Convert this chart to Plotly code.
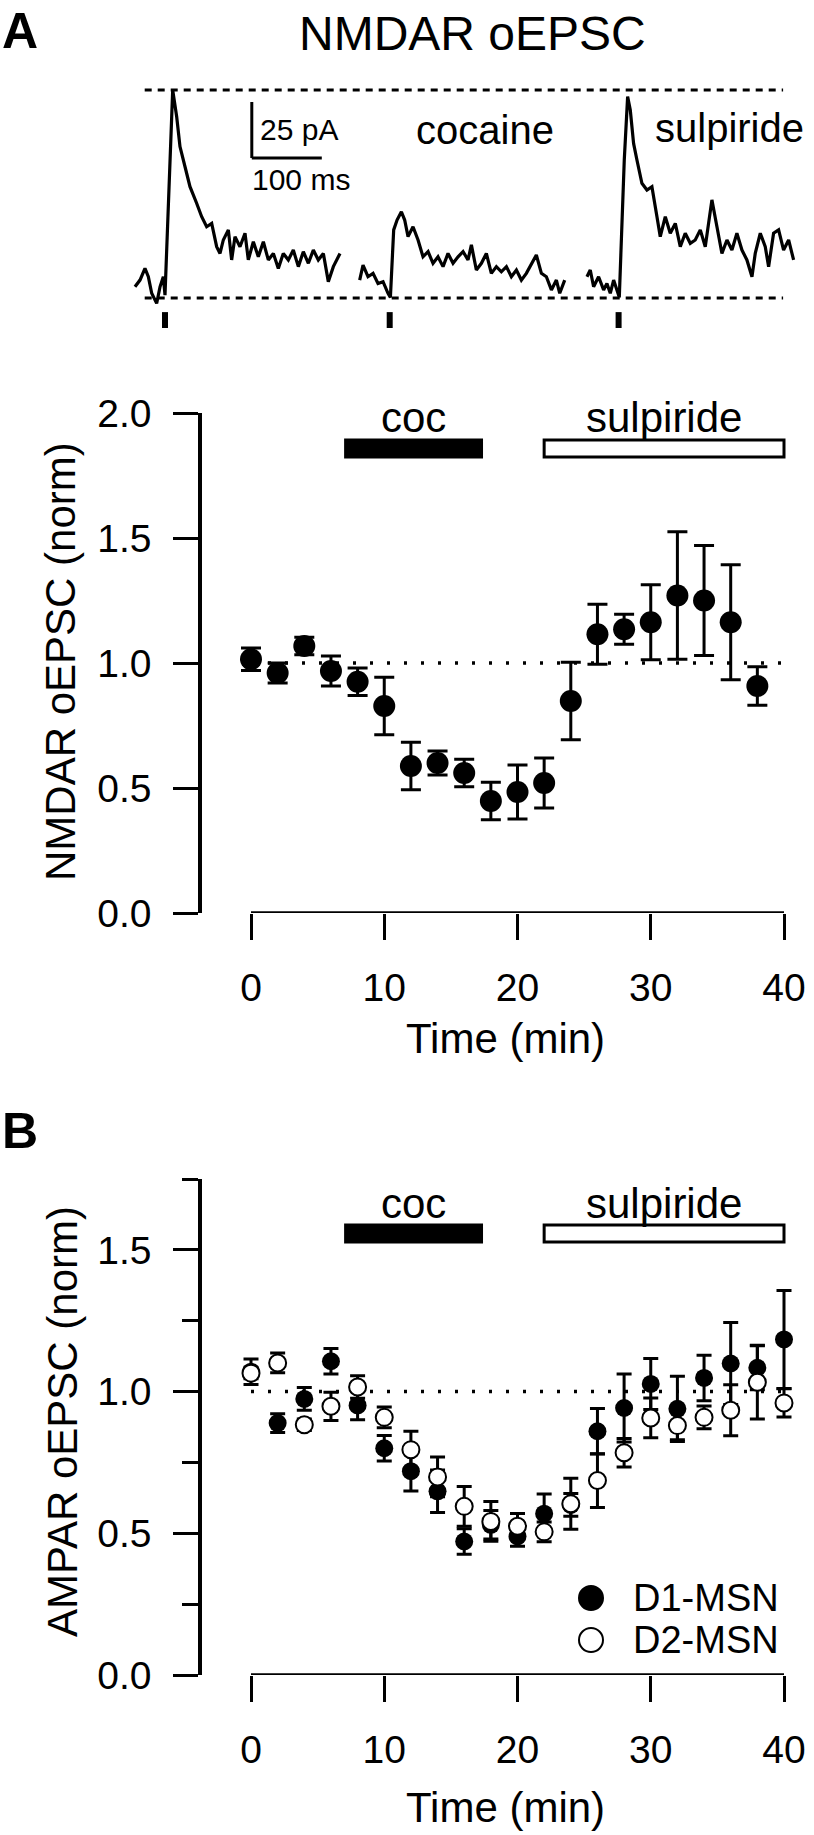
import plotly.graph_objects as go

# ------------------------------------------------------------------ data
# Panel A: NMDAR oEPSC (normalized), mean and SEM every 2 min
time_a = [0, 2, 4, 6, 8, 10, 12, 14, 16, 18, 20, 22, 24, 26, 28, 30, 32, 34, 36, 38]
nmda_mean = [1.015, 0.96, 1.068, 0.968, 0.925, 0.828, 0.588, 0.600, 0.560, 0.448,
             0.484, 0.520, 0.848, 1.115, 1.135, 1.163, 1.270, 1.250, 1.163, 0.908]
nmda_sem = [0.045, 0.04, 0.035, 0.06, 0.055, 0.115, 0.095, 0.048, 0.055, 0.075,
            0.108, 0.10, 0.155, 0.12, 0.06, 0.15, 0.255, 0.22, 0.23, 0.077]

# Panel B: AMPAR oEPSC (normalized) for D1- and D2-MSNs
time_b = [0, 2, 4, 6, 8, 10, 12, 14, 16, 18, 20, 22, 24, 26, 28, 30, 32, 34, 36, 38, 40]
d1_mean = [1.07, 0.889, 0.974, 1.107, 0.951, 0.80, 0.719, 0.648, 0.471, 0.53, 0.489,
           0.569, 0.60, 0.86, 0.942, 1.027, 0.939, 1.048, 1.099, 1.084, 1.184]
d1_sem = [0.045, 0.033, 0.04, 0.045, 0.05, 0.045, 0.07, 0.075, 0.045, 0.05, 0.035,
          0.07, 0.04, 0.08, 0.12, 0.09, 0.115, 0.08, 0.145, 0.078, 0.173]
d2_mean = [1.065, 1.101, 0.883, 0.948, 1.016, 0.909, 0.795, 0.699, 0.595, 0.542, 0.525,
           0.505, 0.604, 0.686, 0.784, 0.907, 0.88, 0.909, 0.934, 1.033, 0.96]
d2_sem = [0.02, 0.035, 0.02, 0.05, 0.04, 0.037, 0.065, 0.07, 0.07, 0.07, 0.045,
          0.035, 0.09, 0.095, 0.05, 0.07, 0.05, 0.04, 0.09, 0.13, 0.05]
series_names = ["D1-MSN", "D2-MSN"]

# Drug application periods (min)
drug_names = ["coc", "sulpiride"]
drug_start = [7.1, 22.0]
drug_end = [17.3, 40.0]
drug_fill = ["black", "white"]

x_ticks = [0, 10, 20, 30, 40]
y_ticks_a = [0.0, 0.5, 1.0, 1.5, 2.0]
y_ticks_b = [0.0, 0.5, 1.0, 1.5]

# Example NMDAR oEPSC traces (time ms from stimulus, current pA)
trace_labels = ["", "cocaine", "sulpiride"]
trace1_ms = [-42.9, -35.7, -28.6, -23.8, -19.0, -11.9, -7.1, -2.4, 0, 11.0, 16.7, 21.4,
             28.6, 35.7, 45.2, 52.4, 59.5, 66.7, 73.8, 78.6, 83.3, 90.5, 95.2, 100,
             107.1, 114.3, 119.0, 126.2, 133.3, 140.5, 147.6, 154.8, 161.9, 169.0,
             176.2, 183.3, 190.5, 197.6, 204.8, 211.9, 219.0, 226.2, 233.3, 240.5, 250]
trace1_pA = [5.0, 8.0, 13.2, 9.5, 2.1, -2.4, 5.0, 9.5, 1.3, 92.9, 80.9, 67.6, 58.6,
             49.7, 42.3, 36.3, 31.8, 33.3, 22.9, 19.9, 25.9, 30.4, 17.0, 27.4, 22.9,
             28.9, 17.0, 25.1, 18.4, 25.1, 17.0, 19.9, 13.2, 19.9, 17.0, 21.4, 14.0,
             20.7, 15.5, 21.4, 17.0, 19.9, 7.3, 14.0, 19.9]
trace2_ms = [-42.9, -38.1, -31.0, -23.8, -16.7, -9.5, -2.4, 1.0, 5.7, 10.5, 16.7, 21.4,
             26.2, 33.3, 40.5, 47.6, 54.8, 61.9, 69.0, 76.2, 83.3, 90.5, 97.6, 104.8,
             111.9, 116.7, 123.8, 131.0, 138.1, 145.2, 152.4, 159.5, 166.7, 173.8,
             181.0, 188.1, 195.2, 209.5, 216.7, 223.8, 231.0, 238.1, 242.9, 250]
trace2_pA = [8.0, 14.7, 9.5, 11.0, 6.5, 7.3, 2.1, 0.3, 30.4, 34.8, 38.5, 34.8, 27.4,
             31.8, 25.9, 18.4, 20.7, 15.5, 18.4, 14.0, 19.9, 15.5, 18.4, 20.7, 17.0,
             23.7, 12.5, 15.5, 19.9, 11.0, 14.0, 11.7, 14.0, 9.5, 12.5, 8.0, 11.0,
             19.2, 11.0, 9.5, 3.6, 8.0, 2.1, 8.0]
trace3_ms = [-45.2, -40.5, -35.7, -28.6, -21.4, -16.7, -11.9, -7.1, -2.4, 1.0, 8.1, 12.9,
             16.7, 21.4, 26.2, 33.3, 40.5, 47.6, 54.8, 59.5, 66.7, 73.8, 81.0, 88.1,
             95.2, 102.4, 109.5, 116.7, 123.8, 128.6, 133.3, 140.5, 147.6, 154.8,
             161.9, 169.0, 176.2, 183.3, 190.5, 195.2, 202.4, 209.5, 214.3, 221.4,
             228.6, 235.7, 242.9, 250]
trace3_pA = [9.5, 12.5, 5.0, 9.5, 3.6, 6.5, 2.1, 8.0, 3.6, 0.3, 61.6, 89.9, 83.9, 69.0,
             61.6, 51.2, 48.2, 49.7, 36.3, 27.4, 36.3, 28.9, 33.3, 22.9, 28.9, 24.4,
             25.9, 30.4, 22.9, 34.8, 43.8, 31.8, 19.9, 25.9, 21.4, 28.9, 21.4, 17.0,
             9.5, 19.9, 28.9, 22.9, 14.0, 28.9, 30.4, 21.4, 25.9, 17.0]
scale_bar_pA = 25
scale_bar_ms = 100

# ------------------------------------------------------------------ layout helpers
W, H = 814, 1835
FONT = "Arial, Liberation Sans, Helvetica, sans-serif"


def px(x):
    return x / W


def py(y):
    return 1 - y / H


# plot geometry (pixels)
X0_PX, PX_PER_MIN = 251.0, 13.325
YAX_PX, XRIGHT_PX = 202.0, 797.0
x_range = [(YAX_PX - X0_PX) / PX_PER_MIN, (XRIGHT_PX - X0_PX) / PX_PER_MIN]

# trace panel geometry
STIM_PX, PX_PER_MS, BASE_PX, PX_PER_PA = 165.0, 0.7, 298.0, 2.24
TR_TOP, TR_BOT = 60.0, 340.0
trace_offsets = [0, 321, 648]

fig = go.Figure()

# ---- example traces
for ms, pa, off in zip([trace1_ms, trace2_ms, trace3_ms],
                       [trace1_pA, trace2_pA, trace3_pA], trace_offsets):
    fig.add_trace(go.Scatter(x=[t + off for t in ms], y=pa, mode="lines",
                             line=dict(color="black", width=3.2),
                             xaxis="x3", yaxis="y3", showlegend=False,
                             hoverinfo="skip"))

# ---- panel A
fig.add_trace(go.Scatter(
    x=time_a, y=nmda_mean, mode="markers", xaxis="x", yaxis="y",
    marker=dict(size=22, color="black"),
    error_y=dict(type="data", array=nmda_sem, color="black", thickness=3, width=10),
    showlegend=False, cliponaxis=False))

# ---- panel B
fig.add_trace(go.Scatter(
    x=time_b, y=d1_mean, mode="markers", xaxis="x2", yaxis="y2", name=series_names[0],
    marker=dict(size=18, color="black"),
    error_y=dict(type="data", array=d1_sem, color="black", thickness=3, width=7.5),
    showlegend=False, cliponaxis=False))
fig.add_trace(go.Scatter(
    x=time_b, y=d2_mean, mode="markers", xaxis="x2", yaxis="y2", name=series_names[1],
    marker=dict(size=17, color="white", line=dict(color="black", width=2)),
    error_y=dict(type="data", array=d2_sem, color="black", thickness=3, width=7.5),
    showlegend=False, cliponaxis=False))

shapes = []
annotations = []

# trace panel decorations
peak = max(trace1_pA)
for yv in [peak, 0]:
    shapes.append(dict(type="line", xref="x3", yref="y3", x0=-29, x1=883, y0=yv, y1=yv,
                       line=dict(color="black", width=3, dash="7px,6px")))
for off in trace_offsets:
    shapes.append(dict(type="line", xref="x3", yref="y3", x0=off, x1=off, y0=-6.3, y1=-13.4,
                       line=dict(color="black", width=6)))
sb_x, sb_y = 124, 62.5
shapes.append(dict(type="line", xref="x3", yref="y3", x0=sb_x, x1=sb_x,
                   y0=sb_y, y1=sb_y + scale_bar_pA, line=dict(color="black", width=3)))
shapes.append(dict(type="line", xref="x3", yref="y3", x0=sb_x, x1=sb_x + scale_bar_ms,
                   y0=sb_y, y1=sb_y, line=dict(color="black", width=3)))
annotations.append(dict(x=px(258), y=py(129.5), xref="paper", yref="paper",
                        text=f"{scale_bar_pA} pA", showarrow=False, xanchor="left",
                        yanchor="middle", font=dict(size=30, family=FONT, color="black")))
annotations.append(dict(x=px(250), y=py(179.5), xref="paper", yref="paper",
                        text=f"{scale_bar_ms} ms", showarrow=False, xanchor="left",
                        yanchor="middle", font=dict(size=30, family=FONT, color="black")))
for lab, xc, yc in zip(trace_labels, [0, 485, 729], [0, 130, 128]):
    if lab:
        annotations.append(dict(x=px(xc), y=py(yc), xref="paper", yref="paper", text=lab,
                                showarrow=False, xanchor="center", yanchor="middle",
                                font=dict(size=40, family=FONT, color="black")))

# panel-specific decorations
panels = [("x", "y", 1.824, 1.892, 417), ("x2", "y2", 1.528, 1.588, 1203)]
for xr, yr, b0, b1, txt_y in panels:
    shapes.append(dict(type="line", xref=xr, yref=yr, x0=0, x1=40, y0=0, y1=0,
                       line=dict(color="black", width=3.5)))
    shapes.append(dict(type="line", xref=xr, yref=yr, x0=0, x1=40, y0=1, y1=1,
                       line=dict(color="black", width=3.5, dash="3px,14px"), layer="below"))
    for name, s, e, fc in zip(drug_names, drug_start, drug_end, drug_fill):
        shapes.append(dict(type="rect", xref=xr, yref=yr, x0=s, x1=e, y0=b0, y1=b1,
                           fillcolor=fc, line=dict(color="black", width=3)))
        annotations.append(dict(x=(s + e) / 2, y=py(txt_y), xref=xr, yref="paper",
                                text=name, showarrow=False, xanchor="center",
                                yanchor="middle",
                                font=dict(size=42, family=FONT, color="black")))

# legend (panel B)
leg_x, leg_r = 591, 12
for i, (name, yc) in enumerate(zip(series_names, [1598, 1640])):
    shapes.append(dict(type="circle", xref="paper", yref="paper",
                       x0=px(leg_x - leg_r), x1=px(leg_x + leg_r),
                       y0=py(yc + leg_r), y1=py(yc - leg_r),
                       fillcolor="black" if i == 0 else "white",
                       line=dict(color="black", width=2)))
    annotations.append(dict(x=px(631), y=py(yc), xref="paper", yref="paper", text=name,
                            showarrow=False, xanchor="left", yanchor="middle",
                            font=dict(size=38, family=FONT, color="black")))

# titles and labels
annotations += [
    dict(x=px(0), y=py(31), xref="paper", yref="paper", text="<b>A</b>", showarrow=False,
         xanchor="left", yanchor="middle", font=dict(size=50, family=FONT, color="black")),
    dict(x=px(0), y=py(1131), xref="paper", yref="paper", text="<b>B</b>", showarrow=False,
         xanchor="left", yanchor="middle", font=dict(size=50, family=FONT, color="black")),
    dict(x=px(472), y=py(33), xref="paper", yref="paper", text="NMDAR oEPSC",
         showarrow=False, xanchor="center", yanchor="middle",
         font=dict(size=48, family=FONT, color="black")),
    dict(x=px(60), y=py(662), xref="paper", yref="paper", text="NMDAR oEPSC (norm)",
         showarrow=False, textangle=-90, xanchor="center", yanchor="middle",
         font=dict(size=42, family=FONT, color="black")),
    dict(x=px(62), y=py(1422), xref="paper", yref="paper", text="AMPAR oEPSC (norm)",
         showarrow=False, textangle=-90, xanchor="center", yanchor="middle",
         font=dict(size=42, family=FONT, color="black")),
    dict(x=px(505), y=py(1038), xref="paper", yref="paper", text="Time (min)",
         showarrow=False, xanchor="center", yanchor="middle",
         font=dict(size=42, family=FONT, color="black")),
    dict(x=px(505), y=py(1807), xref="paper", yref="paper", text="Time (min)",
         showarrow=False, xanchor="center", yanchor="middle",
         font=dict(size=42, family=FONT, color="black")),
]

tickfont = dict(size=39, family=FONT, color="black")
xaxis_common = dict(range=x_range, domain=[px(YAX_PX), px(XRIGHT_PX)], showline=False,
                    showgrid=False, zeroline=False, ticks="outside", ticklen=26,
                    tickwidth=3, tickcolor="black", tickvals=x_ticks,
                    ticktext=[str(v) for v in x_ticks], tickfont=tickfont,
                    ticklabelstandoff=14)
yaxis_common = dict(showline=True, linewidth=3.5, linecolor="black", showgrid=False,
                    zeroline=False, ticks="outside", ticklen=25, tickwidth=3,
                    tickcolor="black", tickfont=tickfont, ticklabelstandoff=14)

fig.update_layout(
    width=W, height=H, margin=dict(l=0, r=0, t=0, b=0, pad=0, autoexpand=False),
    paper_bgcolor="white", plot_bgcolor="white", showlegend=False,
    font=dict(family=FONT, color="black"),
    xaxis=dict(**xaxis_common, anchor="y"),
    yaxis=dict(**yaxis_common, anchor="x", domain=[py(913), py(413)], range=[0, 2],
               tickvals=y_ticks_a, ticktext=[f"{v:.1f}" for v in y_ticks_a]),
    xaxis2=dict(**xaxis_common, anchor="y2"),
    yaxis2=dict(**yaxis_common, anchor="x2", domain=[py(1675), py(1179)], range=[0, 1.75],
                tickvals=y_ticks_b, ticktext=[f"{v:.1f}" for v in y_ticks_b],
                minor=dict(dtick=0.25, ticks="outside", ticklen=16, tickwidth=3,
                           tickcolor="black", showgrid=False)),
    xaxis3=dict(domain=[0, 1], range=[-STIM_PX / PX_PER_MS, (W - STIM_PX) / PX_PER_MS],
                visible=False, anchor="y3"),
    yaxis3=dict(domain=[py(TR_BOT), py(TR_TOP)],
                range=[(BASE_PX - TR_BOT) / PX_PER_PA, (BASE_PX - TR_TOP) / PX_PER_PA],
                visible=False, anchor="x3"),
    shapes=shapes, annotations=annotations,
)

fig.write_html("out.html", config={"displayModeBar": False},
               post_script="document.body.style.margin='0';"
                           "document.body.style.overflow='hidden';")
